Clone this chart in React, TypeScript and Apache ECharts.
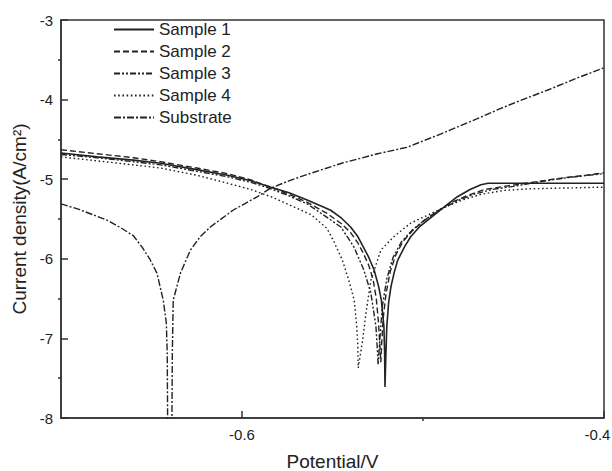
import React, { useEffect, useRef } from "react";
import * as echarts from "echarts";

const seriesNames = ["Sample 1", "Sample 2", "Sample 3", "Sample 4", "Substrate"];

const xTickLabels = [-0.6, -0.4];
const xMinorTicks = [-0.5];
const yTickLabels = [-8, -7, -6, -5, -4, -3];
const yMinorTicks = [-7.5, -6.5, -5.5, -4.5, -3.5];

const sample1: number[][] = [
  [-0.7, -4.67], [-0.68, -4.72], [-0.66, -4.76], [-0.645, -4.8], [-0.625, -4.88],
  [-0.608, -4.95], [-0.595, -5.02], [-0.584, -5.1], [-0.574, -5.17], [-0.564, -5.26],
  [-0.556, -5.34], [-0.551, -5.39], [-0.545, -5.49], [-0.54, -5.6], [-0.536, -5.72],
  [-0.533, -5.85], [-0.53, -5.98], [-0.527, -6.14], [-0.5245, -6.35], [-0.523, -6.52],
  [-0.5216, -6.85], [-0.5212, -7.2], [-0.521, -7.61], [-0.5205, -7.2], [-0.52, -6.85],
  [-0.519, -6.55], [-0.5177, -6.35], [-0.516, -6.18], [-0.514, -6.02], [-0.51, -5.84],
  [-0.5067, -5.72], [-0.502, -5.6], [-0.4972, -5.51], [-0.49, -5.38], [-0.481, -5.22],
  [-0.474, -5.13], [-0.468, -5.07], [-0.464, -5.05], [-0.45, -5.05], [-0.43, -5.05],
  [-0.4, -5.05],
];

const sample2: number[][] = [
  [-0.7, -4.63], [-0.68, -4.68], [-0.66, -4.73], [-0.645, -4.78], [-0.625, -4.86],
  [-0.608, -4.93], [-0.595, -5.01], [-0.584, -5.1], [-0.574, -5.19], [-0.564, -5.29],
  [-0.553, -5.43], [-0.545, -5.56], [-0.54, -5.67], [-0.536, -5.8], [-0.533, -5.93],
  [-0.53, -6.08], [-0.5275, -6.27], [-0.5258, -6.5], [-0.5246, -6.8], [-0.5238, -7.1],
  [-0.5233, -7.3], [-0.5228, -7.05], [-0.522, -6.75], [-0.5205, -6.45], [-0.518, -6.15],
  [-0.515, -5.95], [-0.511, -5.78], [-0.506, -5.65], [-0.5, -5.53], [-0.492, -5.4],
  [-0.484, -5.29], [-0.476, -5.21], [-0.466, -5.13], [-0.455, -5.09], [-0.44, -5.04],
  [-0.425, -4.99], [-0.41, -4.95], [-0.4, -4.92],
];

const sample3: number[][] = [
  [-0.7, -4.69], [-0.68, -4.73], [-0.66, -4.78], [-0.645, -4.82], [-0.625, -4.9],
  [-0.608, -4.97], [-0.595, -5.04], [-0.584, -5.12], [-0.574, -5.21], [-0.564, -5.31],
  [-0.553, -5.48], [-0.5454, -5.6], [-0.5382, -5.85], [-0.5327, -6.14], [-0.5288, -6.43],
  [-0.526, -6.85], [-0.5252, -7.15], [-0.5248, -7.33], [-0.5238, -7.0], [-0.5225, -6.6],
  [-0.52, -6.25], [-0.5165, -5.98], [-0.512, -5.79], [-0.506, -5.64], [-0.499, -5.51],
  [-0.49, -5.38], [-0.481, -5.27], [-0.472, -5.19], [-0.462, -5.13], [-0.45, -5.09],
  [-0.435, -5.03], [-0.42, -4.98], [-0.4, -4.93],
];

const sample4: number[][] = [
  [-0.7, -4.72], [-0.68, -4.77], [-0.66, -4.82], [-0.645, -4.86], [-0.625, -4.95],
  [-0.608, -5.05], [-0.595, -5.13], [-0.584, -5.22], [-0.574, -5.32], [-0.5615, -5.45],
  [-0.553, -5.62], [-0.5493, -5.78], [-0.5445, -6.02], [-0.541, -6.27], [-0.538, -6.52],
  [-0.5366, -6.85], [-0.536, -7.1], [-0.5358, -7.37], [-0.5335, -7.05], [-0.5315, -6.68],
  [-0.5288, -6.27], [-0.5233, -5.89], [-0.516, -5.72], [-0.5067, -5.55], [-0.4972, -5.45],
  [-0.488, -5.35], [-0.478, -5.26], [-0.468, -5.19], [-0.455, -5.14], [-0.44, -5.12],
  [-0.42, -5.11], [-0.4, -5.1],
];

const substrate: number[][] = [
  [-0.7, -5.31], [-0.69, -5.38], [-0.682, -5.45], [-0.674, -5.52], [-0.667, -5.61],
  [-0.66, -5.71], [-0.655, -5.86], [-0.651, -6.0], [-0.647, -6.18], [-0.6435, -6.52],
  [-0.6418, -6.81], [-0.6413, -7.2], [-0.6411, -8.0], [-0.6399, -8.8], [-0.6387, -8.0],
  [-0.6385, -7.2], [-0.638, -6.52], [-0.634, -6.18], [-0.6285, -5.89], [-0.623, -5.72],
  [-0.6175, -5.6], [-0.605, -5.39], [-0.5915, -5.22], [-0.584, -5.11], [-0.574, -5.02],
  [-0.564, -4.94], [-0.545, -4.8], [-0.525, -4.68], [-0.509, -4.6], [-0.49, -4.43],
  [-0.47, -4.24], [-0.457, -4.11], [-0.446, -4.01], [-0.43, -3.87], [-0.415, -3.73],
  [-0.4, -3.6],
];

const seriesData = [sample1, sample2, sample3, sample4, substrate];
const dashes: any[] = ["solid", [6, 3], [6, 2, 2, 2, 2, 2], [1.6, 2.6], [7, 2, 2, 2]];

const FONT = "'Liberation Sans', Arial, Helvetica, sans-serif";
const INK = "#222";

export default function App() {
  const ref = useRef<HTMLDivElement>(null);
  useEffect(() => {
    if (!ref.current) return;
    const chart = echarts.init(ref.current, undefined, { renderer: "svg" });
    const isLabel = (v: number) => xTickLabels.some((t) => Math.abs(t - v) < 1e-6);
    const isLast = (v: number) => Math.abs(v - xTickLabels[xTickLabels.length - 1]) < 1e-6;
    chart.setOption({
      animation: false,
      backgroundColor: "#fff",
      textStyle: { fontFamily: FONT, color: INK },
      grid: {
        left: 61, right: 8, top: 20, bottom: 53,
        outerBoundsMode: "none",
        containLabel: false,
        show: true, borderColor: "#333", borderWidth: 1.5, backgroundColor: "transparent",
      },
      legend: {
        orient: "vertical",
        left: 113,
        top: 21,
        padding: 0,
        itemWidth: 40,
        itemHeight: 17,
        itemGap: 5,
        data: seriesNames,
        itemStyle: { opacity: 0, borderWidth: 0 },
        textStyle: { fontSize: 17, color: INK, fontFamily: FONT },
      },
      xAxis: [
        {
          type: "value", min: -0.7, max: -0.4, interval: 0.1,
          name: "Potential/V", nameLocation: "middle", nameGap: 34,
          nameTextStyle: { fontSize: 19, color: INK, fontFamily: FONT },
          axisLine: { show: true, lineStyle: { color: "#333", width: 1.5 } },
          axisTick: { show: true, inside: true, length: 7, customValues: xTickLabels, lineStyle: { color: "#333", width: 1.5 } },
          axisLabel: {
            show: true, fontSize: 15, color: INK, margin: 9, fontFamily: FONT,
            customValues: xTickLabels,
            formatter: (v: number) =>
              isLabel(v) ? (isLast(v) ? "{r|" + v.toFixed(1) + "}" : v.toFixed(1)) : "",
            rich: {
              r: { fontSize: 15, color: INK, fontFamily: FONT, padding: [0, 13, 0, 0] },
            },
          },
          splitLine: { show: false },
        },
        {
          type: "value", min: -0.7, max: -0.4, interval: 0.1, position: "bottom",
          axisLine: { show: false },
          axisTick: { show: true, inside: false, length: 3, customValues: xMinorTicks, lineStyle: { color: "#333", width: 1.5 } },
          axisLabel: { show: false },
          splitLine: { show: false },
        },
      ],
      yAxis: [
        {
          type: "value", min: -8, max: -3, interval: 1,
          name: "Current density(A/cm²)", nameLocation: "middle", nameGap: 26,
          nameTextStyle: { fontSize: 19, color: INK, fontFamily: FONT },
          axisLine: { show: true, lineStyle: { color: "#333", width: 1.5 } },
          axisTick: { show: true, inside: true, length: 7, customValues: yTickLabels, lineStyle: { color: "#333", width: 1.5 } },
          axisLabel: { show: true, fontSize: 15, color: INK, margin: 8, fontFamily: FONT, customValues: yTickLabels },
          splitLine: { show: false },
        },
        {
          type: "value", min: -8, max: -3, interval: 0.5, position: "left",
          axisLine: { show: false },
          axisTick: { show: true, inside: false, length: 3, customValues: yMinorTicks, lineStyle: { color: "#333", width: 1.5 } },
          axisLabel: { show: false },
          splitLine: { show: false },
        },
      ],
      series: seriesNames.map((name, i) => ({
        name,
        type: "line",
        xAxisIndex: 0,
        yAxisIndex: 0,
        data: seriesData[i],
        symbol: "none",
        smooth: false,
        clip: true,
        lineStyle: { color: INK, width: i === 0 ? 1.6 : 1.4, type: dashes[i] },
        itemStyle: { color: INK },
      })),
    });
    return () => chart.dispose();
  }, []);
  return (
    <div
      ref={ref}
      style={{ position: "fixed", left: 0, top: 0, width: 612, height: 471, background: "#fff" }}
    />
  );
}
